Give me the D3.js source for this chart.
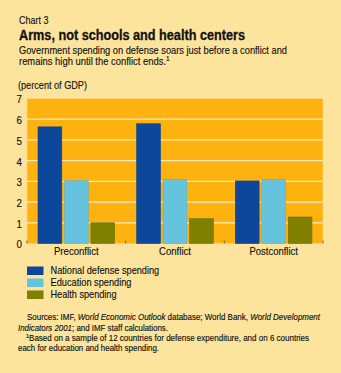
<!DOCTYPE html>
<html>
<head>
<meta charset="utf-8">
<script src="https://cdn.jsdelivr.net/npm/d3@7"></script>
<style>
  body { margin: 0; background: #fde49c; }
  svg text { font-family: "Liberation Sans", Arial, sans-serif; fill: #111; stroke: #111; stroke-width: 0.15px; }
</style>
</head>
<body>
<script>
var categories = ['Preconflict', 'Conflict', 'Postconflict'];
var seriesNames = ['National defense spending', 'Education spending', 'Health spending'];
var defense = [5.63, 5.78, 3.02];
var education = [3.03, 3.1, 3.08];
var health = [1.0, 1.2, 1.28];
var yTicks = [0, 1, 2, 3, 4, 5, 6, 7];
var colors = ['#0c479c', '#66c3de', '#7f7f00'];

var width = 341, height = 373;
var plot = { left: 27, right: 323, top: 98.5, bottom: 243.5 };

// the typeface is a narrow grotesque; squeeze the glyphs horizontally
var NARROW = 0.85;
function squeeze(sel, k) {
  sel.each(function() {
    var w = this.getComputedTextLength();
    d3.select(this).attr('textLength', w * (k || NARROW)).attr('lengthAdjust', 'spacingAndGlyphs');
  });
  return sel;
}
function fitTo(sel, w) {
  sel.attr('textLength', w).attr('lengthAdjust', 'spacingAndGlyphs');
  return sel;
}

var svg = d3.select('body').append('svg')
  .attr('width', width)
  .attr('height', height);

svg.append('rect').attr('width', width).attr('height', height).attr('fill', '#fde49c');

// titles
fitTo(svg.append('text').attr('x', 19).attr('y', 23.7).style('font-size', '11px').text('Chart 3'), 29.5);
fitTo(svg.append('text').attr('x', 19).attr('y', 40).style('font-size', '14.5px').style('font-weight', 'bold')
  .style('stroke-width', '0.3px').text('Arms, not schools and health centers'), 226);
fitTo(svg.append('text').attr('x', 19).attr('y', 54.3).style('font-size', '11px')
  .text('Government spending on defense soars just before a conflict and'), 268);
var sub2 = svg.append('text').attr('x', 19).attr('y', 65.3).style('font-size', '11px');
fitTo(sub2.append('tspan').text('remains high until the conflict ends.'), 147);
sub2.append('tspan').attr('dy', -4).style('font-size', '6.5px').text('1');
fitTo(svg.append('text').attr('x', 18).attr('y', 89).style('font-size', '11px').text('(percent of GDP)'), 69);

var x0 = d3.scaleBand().domain(categories).range([plot.left, plot.right]);
var x1 = d3.scaleBand().domain(seriesNames).range([11, x0.bandwidth() - 11]).paddingInner(0.1);
var y = d3.scaleLinear().domain([0, 7]).range([plot.bottom, plot.top]);

svg.append('rect')
  .attr('x', plot.left).attr('y', plot.top)
  .attr('width', plot.right - plot.left).attr('height', plot.bottom - plot.top)
  .attr('fill', '#feb20f').attr('stroke', '#fdd27a').attr('stroke-width', 0.8);

svg.append('g').selectAll('line')
  .data(yTicks.filter(function(d) { return d > 0 && d < 7; }))
  .enter().append('line')
  .attr('x1', plot.left).attr('x2', plot.right)
  .attr('y1', function(d) { return y(d); }).attr('y2', function(d) { return y(d); })
  .attr('stroke', '#fdebc0').attr('stroke-width', 1.3);

// y tick labels
var yAxis = svg.append('g')
  .attr('transform', 'translate(' + (plot.left - 5) + ',0)')
  .call(d3.axisLeft(y).tickValues(yTicks).tickFormat(d3.format('d')).tickSize(0).tickPadding(0));
yAxis.select('.domain').remove();
yAxis.selectAll('text').style('font-size', '11.5px').style('font-family', null).attr('dy', '0.38em');
squeeze(yAxis.selectAll('text'));

// bars
var series = [defense, education, health];
var rows = [];
categories.forEach(function(c, i) {
  seriesNames.forEach(function(s, j) {
    rows.push({ cat: c, name: s, value: series[j][i], color: colors[j] });
  });
});

svg.append('g').selectAll('rect')
  .data(rows)
  .enter().append('rect')
  .attr('x', function(d) { return x0(d.cat) + x1(d.name); })
  .attr('y', function(d) { return y(d.value); })
  .attr('width', x1.bandwidth())
  .attr('height', function(d) { return y(0) - y(d.value); })
  .attr('fill', function(d) { return d.color; })
  .attr('stroke', function(d) { return d3.color(d.color).darker(0.3); })
  .attr('stroke-width', 0.6);

// small ticks between groups
var bounds = categories.map(function(c) { return x0(c); }).concat([plot.right]);
svg.append('g').selectAll('line')
  .data(bounds)
  .enter().append('line')
  .attr('x1', function(d) { return d; }).attr('x2', function(d) { return d; })
  .attr('y1', plot.bottom).attr('y2', plot.bottom - 3)
  .attr('stroke', '#555').attr('stroke-width', 0.8);

// category labels
var catWidths = [44.7, 32, 48.4];
var xAxis = svg.append('g')
  .attr('transform', 'translate(0,' + plot.bottom + ')')
  .call(d3.axisBottom(x0).tickSize(0).tickPadding(3.5));
xAxis.select('.domain').remove();
xAxis.selectAll('text').style('font-size', '11.5px').style('font-family', null)
  .attr('textLength', function(d, i) { return catWidths[i]; }).attr('lengthAdjust', 'spacingAndGlyphs');

// legend
var legendWidths = [108.7, 81, 66];
var legend = svg.append('g').selectAll('g')
  .data(seriesNames)
  .enter().append('g')
  .attr('transform', function(d, i) { return 'translate(27,' + (266.5 + i * 12) + ')'; });
legend.append('rect').attr('width', 16.5).attr('height', 8.5)
  .attr('fill', function(d, i) { return colors[i]; });
legend.append('text').attr('x', 23.5).attr('y', 7.7).style('font-size', '11.3px')
  .text(function(d) { return d; })
  .attr('textLength', function(d, i) { return legendWidths[i]; }).attr('lengthAdjust', 'spacingAndGlyphs');

// sources and footnote
var notes = svg.append('g').style('font-size', '8.6px');
var n1 = notes.append('text').attr('x', 27).attr('y', 320.3);
n1.append('tspan').text('Sources: IMF, ');
n1.append('tspan').style('font-style', 'italic').text('World Economic Outlook');
n1.append('tspan').text(' database; World Bank, ');
n1.append('tspan').style('font-style', 'italic').text('World Development');
fitTo(n1, 293);
var n2 = notes.append('text').attr('x', 18).attr('y', 330.7);
n2.append('tspan').style('font-style', 'italic').text('Indicators 2001');
n2.append('tspan').text('; and IMF staff calculations.');
fitTo(n2, 150);
var n3 = notes.append('text').attr('x', 26).attr('y', 341);
n3.append('tspan').attr('dy', -3).style('font-size', '5.5px').text('1');
fitTo(n3.append('tspan').attr('dy', 3)
  .text('Based on a sample of 12 countries for defense expenditure, and on 6 countries'), 280);
fitTo(notes.append('text').attr('x', 18).attr('y', 351.3).text('each for education and health spending.'), 141);
</script>
</body>
</html>
